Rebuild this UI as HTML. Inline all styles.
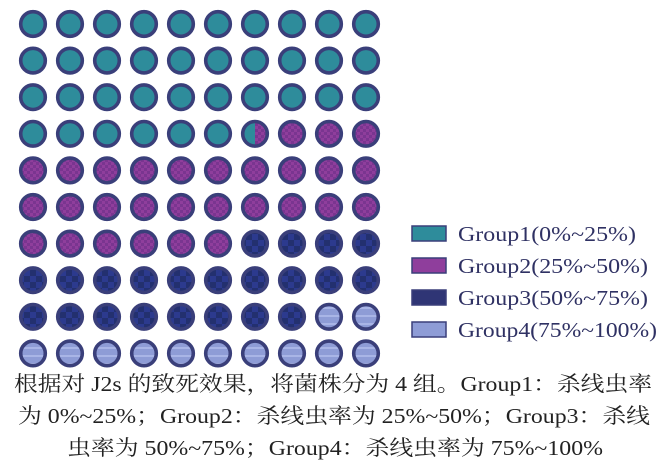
<!DOCTYPE html>
<html><head><meta charset="utf-8"><style>
html,body{margin:0;padding:0;background:#fff;width:663px;height:471px;overflow:hidden}
</style></head><body>
<svg id="s" width="663" height="471" xmlns="http://www.w3.org/2000/svg">
<defs>
<pattern id="p2" width="6" height="6" patternUnits="userSpaceOnUse"><rect width="6" height="6" fill="#8f3e9c"/><rect width="3" height="3" fill="#7a3590"/><rect x="3" y="3" width="3" height="3" fill="#7a3590"/></pattern>
<pattern id="p3" width="12" height="12" patternUnits="userSpaceOnUse"><rect width="12" height="12" fill="#2c3a8e"/><rect width="6" height="6" fill="#23306f"/><rect x="6" y="6" width="6" height="6" fill="#23306f"/></pattern>
<pattern id="p4" width="8" height="8" patternUnits="userSpaceOnUse"><rect width="8" height="8" fill="#8e9cd6"/><rect y="3" width="8" height="2" fill="#a9b5e6"/></pattern>
</defs>
<g id="g"></g>
<g font-family="Liberation Serif, serif" font-size="21" fill="#2f3163">
<rect x="412" y="226" width="34" height="15" fill="#2e8c9b" stroke="#3a3f7a" stroke-width="1.5"/>
<text x="458" y="241" textLength="178" lengthAdjust="spacingAndGlyphs">Group1(0%~25%)</text>
<rect x="412" y="258" width="34" height="15" fill="#8f3e9c" stroke="#3a3f7a" stroke-width="1.5"/>
<text x="458" y="273" textLength="190" lengthAdjust="spacingAndGlyphs">Group2(25%~50%)</text>
<rect x="412" y="290" width="34" height="15" fill="#2f3575" stroke="#3a3f7a" stroke-width="1.5"/>
<text x="458" y="305" textLength="190" lengthAdjust="spacingAndGlyphs">Group3(50%~75%)</text>
<rect x="412" y="322" width="34" height="15" fill="#8e9cd6" stroke="#3a3f7a" stroke-width="1.5"/>
<text x="458" y="337" textLength="199" lengthAdjust="spacingAndGlyphs">Group4(75%~100%)</text>
</g>
<g font-family="Liberation Serif, 'Noto Serif CJK SC', serif" font-size="21" fill="#222">
<text x="14" y="391" textLength="638" lengthAdjust="spacingAndGlyphs">根据对 J2s 的致死效果，将菌株分为 4 组。Group1：杀线虫率</text>
<text x="18" y="423" textLength="632" lengthAdjust="spacingAndGlyphs">为 0%~25%；Group2：杀线虫率为 25%~50%；Group3：杀线</text>
<text x="67" y="455" textLength="536" lengthAdjust="spacingAndGlyphs">虫率为 50%~75%；Group4：杀线虫率为 75%~100%</text>
</g>
</svg>
<script>
var g=document.getElementById('g'),h='';
for(var r=0;r<10;r++)for(var c=0;c<10;c++){
 var i=r*10+c,x=33+c*37,y=24+r*36.6,f;
 if(i<35)f='#2e8c9b';else if(i<66)f='url(#p2)';else if(i<88)f='url(#p3)';else f='url(#p4)';
 if(i==36){
  h+='<circle cx="'+x+'" cy="'+y+'" r="12" fill="url(#p2)"/>';
  h+='<path d="M'+x+' '+(y-12)+' A12 12 0 0 0 '+x+' '+(y+12)+' Z" fill="#2e8c9b"/>';
  h+='<circle cx="'+x+'" cy="'+y+'" r="12.3" fill="none" stroke="#3a3f7a" stroke-width="3.6"/>';
 } else {
  if(i==35)f='#2e8c9b';
  h+='<circle cx="'+x+'" cy="'+y+'" r="12.3" fill="'+f+'" stroke="#3a3f7a" stroke-width="3.6"/>';
 }
}
g.innerHTML=h;
</script>
</body></html>
